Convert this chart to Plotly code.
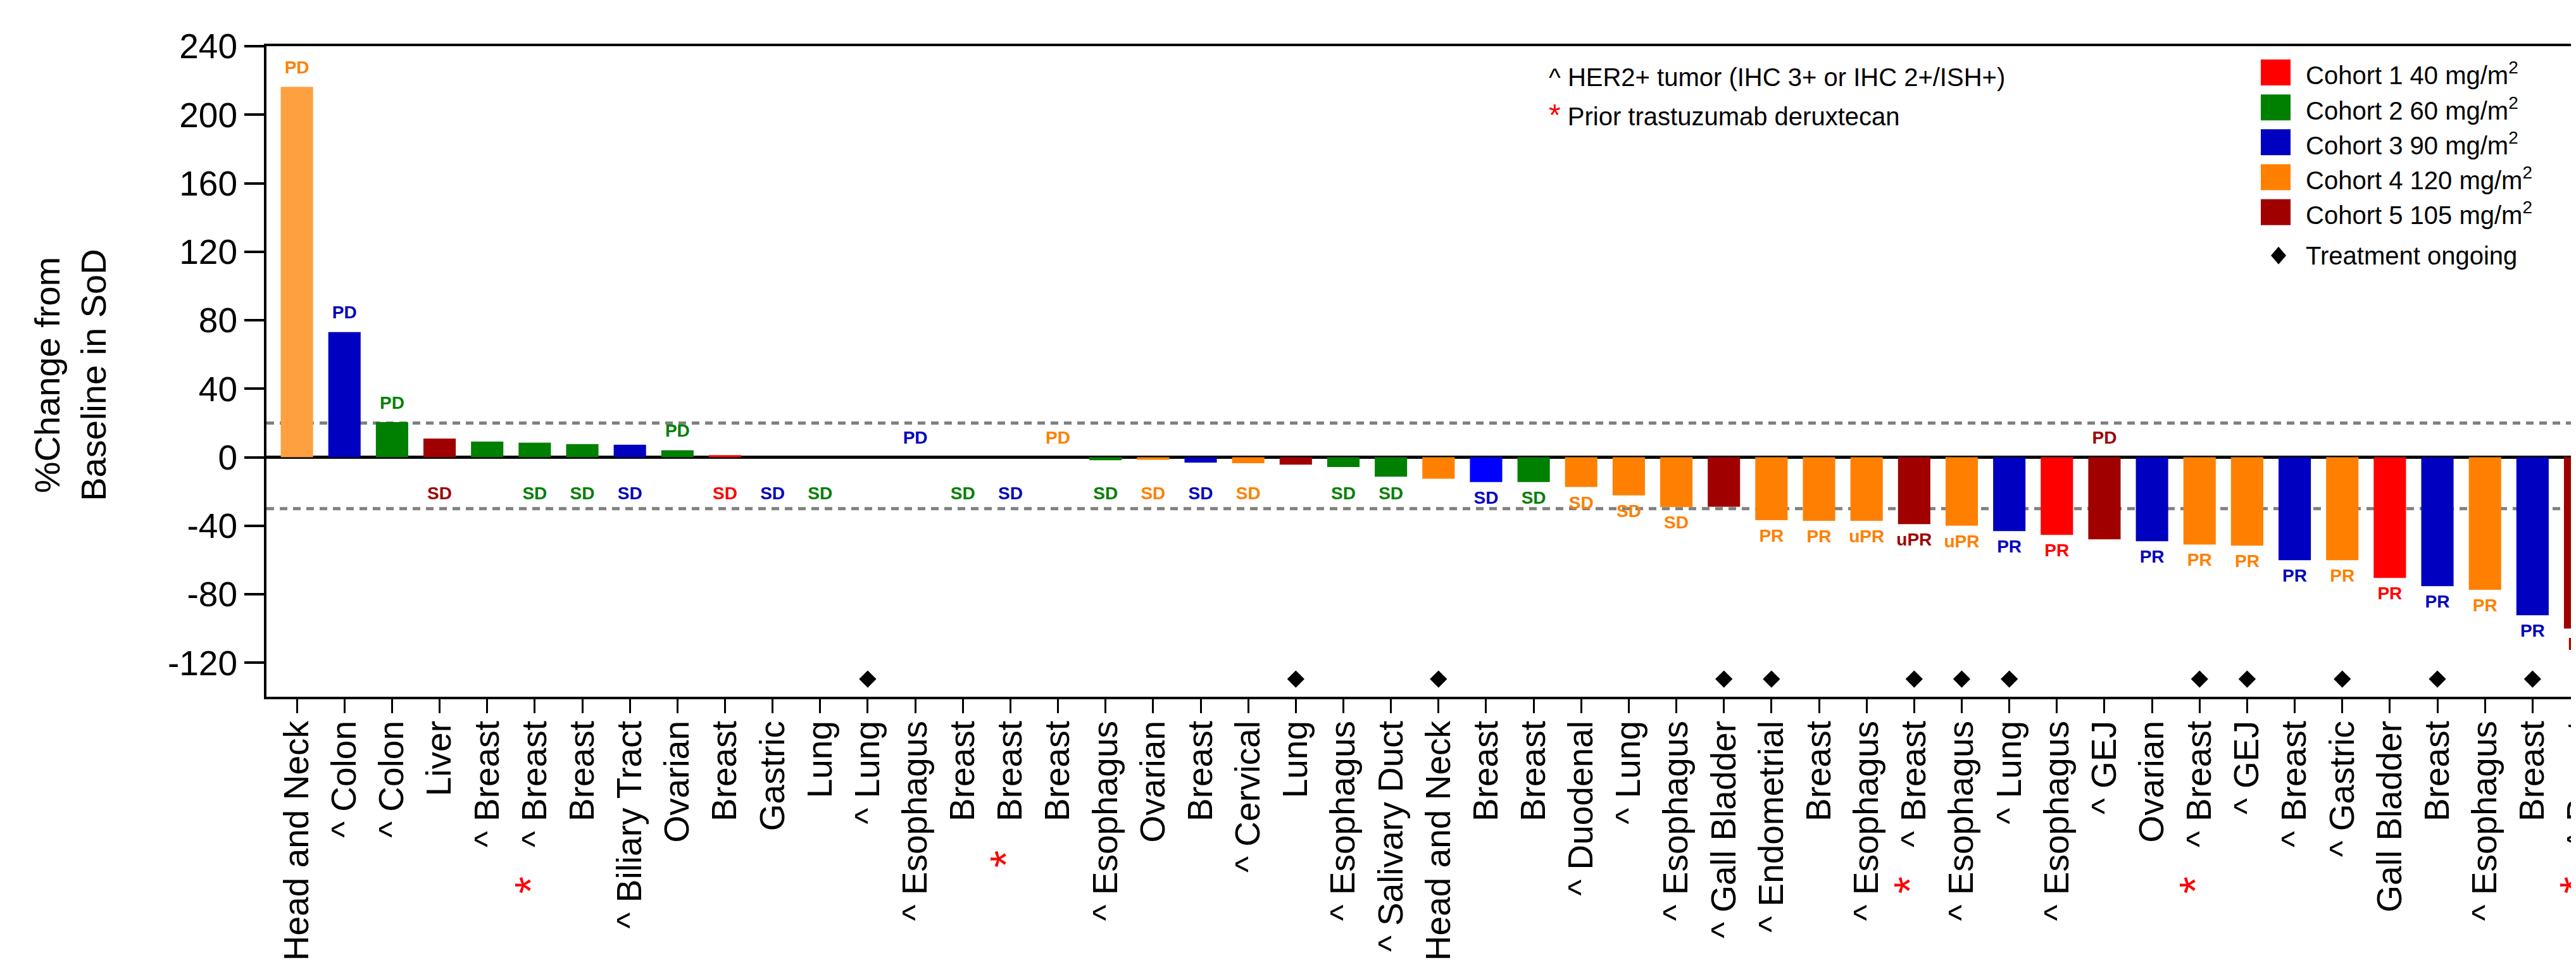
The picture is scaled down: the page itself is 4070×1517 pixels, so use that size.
import plotly.graph_objects as go

# ---------------- data ----------------
tumors = ["Head and Neck", "^ Colon", "^ Colon", "Liver", "^ Breast", "^ Breast", "Breast",
          "^ Biliary Tract", "Ovarian", "Breast", "Gastric", "Lung", "^ Lung", "^ Esophagus",
          "Breast", "Breast", "Breast", "^ Esophagus", "Ovarian", "Breast", "^ Cervical", "Lung",
          "^ Esophagus", "^ Salivary Duct", "Head and Neck", "Breast", "Breast", "^ Duodenal",
          "^ Lung", "^ Esophagus", "^ Gall Bladder", "^ Endometrial", "Breast", "^ Esophagus",
          "^ Breast", "^ Esophagus", "^ Lung", "^ Esophagus", "^ GEJ", "Ovarian", "^ Breast",
          "^ GEJ", "^ Breast", "^ Gastric", "Gall Bladder", "Breast", "^ Esophagus", "Breast",
          "^ Breast"]

pct_change = [216.3, 73.1, 20.5, 10.9, 9.2, 8.5, 7.7, 7.3, 4.1, 1.2,
              0, 0, 0, 0, 0, 0, 0, -1.7, -1.4, -3.1,
              -3.5, -4.3, -5.7, -11.3, -12.5, -14.5, -14.5, -17.3, -22.2, -29.1,
              -28.9, -36.7, -37.1, -37.1, -39.0, -40.0, -43.1, -45.3, -47.9, -49.0,
              -50.9, -51.6, -60.1, -60.1, -70.4, -75.2, -77.4, -92.2, -100.0]

cohort = [4, 3, 2, 5, 2, 2, 2, 3, 2, 1,
          3, 2, 0, 3, 2, 3, 4, 2, 4, 3,
          4, 5, 2, 2, 4, 3, 2, 4, 4, 4,
          5, 4, 4, 4, 5, 4, 3, 1, 5, 3,
          4, 4, 3, 4, 1, 3, 4, 3, 5]

response = ["PD", "PD", "PD", "SD", "", "SD", "SD", "SD", "PD", "SD",
            "SD", "SD", "", "PD", "SD", "SD", "PD", "SD", "SD", "SD",
            "SD", "", "SD", "SD", "", "SD", "SD", "SD", "SD", "SD",
            "", "PR", "PR", "uPR", "uPR", "uPR", "PR", "PR", "PD", "PR",
            "PR", "PR", "PR", "PR", "PR", "PR", "PR", "PR", "PR"]

ongoing_idx = [12, 21, 24, 30, 31, 34, 35, 36, 40, 41, 43, 45, 47, 48]
prior_tdxd_idx = [5, 15, 34, 40, 48]

cohort_names = ["Cohort 1 40 mg/m<sup>2</sup>", "Cohort 2 60 mg/m<sup>2</sup>",
                "Cohort 3 90 mg/m<sup>2</sup>", "Cohort 4 120 mg/m<sup>2</sup>",
                "Cohort 5 105 mg/m<sup>2</sup>"]

ytick_vals = [-120, -80, -40, 0, 40, 80, 120, 160, 200, 240]
ytick_text = ["-120", "-80", "-40", "0", "40", "80", "120", "160", "200", "240"]

# ---------------- style ----------------
cohort_colors = {0: "#FF8000", 1: "#FF0000", 2: "#008000", 3: "#0000C0", 4: "#FF8000", 5: "#A00000"}
bar_color_override = {0: "#FFA040", 25: "#0000FF"}
FONT = "Liberation Sans, Arial, sans-serif"
W, H = 4070, 1517
L, R, T, B = 413, 0, 65, 423.5
pw, ph = W - L - R, H - T - B

def px2x(px):
    return (px - L) / pw

def py2y(py):
    return (H - B - py) / ph

n = len(tumors)
xs = list(range(n))
bar_colors = [bar_color_override.get(i, cohort_colors[c]) for i, c in enumerate(cohort)]

fig = go.Figure()
fig.add_trace(go.Bar(x=xs, y=pct_change, marker=dict(color=bar_colors, line=dict(width=0)),
                     showlegend=False, hoverinfo="skip"))

# response labels
lab_x, lab_y, lab_t, lab_c = [], [], [], []
for i, (v, r) in enumerate(zip(pct_change, response)):
    if not r:
        continue
    if r == "PD":
        y = max(v, 0) + 10.5
    else:
        y = min(-21.8, v - 10)
    lab_x.append(i)
    lab_y.append(y)
    lab_t.append("<b>%s</b>" % r)
    lab_c.append(cohort_colors[cohort[i]])
fig.add_trace(go.Scatter(x=lab_x, y=lab_y, text=lab_t, mode="text", textposition="middle center",
                         textfont=dict(family=FONT, size=28, color=lab_c),
                         showlegend=False, hoverinfo="skip", cliponaxis=False))

# treatment ongoing diamonds
fig.add_trace(go.Scatter(x=ongoing_idx, y=[-129.5] * len(ongoing_idx), mode="markers",
                         marker=dict(symbol="diamond", size=21, color="black"),
                         showlegend=False, hoverinfo="skip", cliponaxis=False))

# tick labels
nb = "\u00a0"
ticktext = []
for i, t in enumerate(tumors):
    if i in prior_tdxd_idx:
        ticktext.append("<span style='color:#FF0000;font-size:70px'>*</span>" + nb * 3 + t)
    else:
        ticktext.append(t)

shapes = []
for yv in (20, -30):
    shapes.append(dict(type="line", xref="paper", yref="y", x0=0, x1=1, y0=yv, y1=yv,
                       line=dict(color="#808080", width=5, dash="12px,9px"), layer="below"))

annotations = []
# y title
annotations.append(dict(text="%Change from<br>Baseline in SoD", xref="paper", yref="paper",
                        x=px2x(103), y=py2y(585), textangle=-90, showarrow=False,
                        xanchor="center", yanchor="middle",
                        font=dict(family=FONT, size=56, color="black")))
# notes
annotations.append(dict(text="^ HER2+ tumor (IHC 3+ or IHC 2+/ISH+)", xref="paper", yref="paper",
                        x=px2x(2437), y=py2y(114), showarrow=False, xanchor="left", yanchor="middle",
                        font=dict(family=FONT, size=40, color="black")))
annotations.append(dict(text="<span style='color:#FF0000;font-size:48px'>*</span> Prior trastuzumab deruxtecan",
                        xref="paper", yref="paper",
                        x=px2x(2437), y=py2y(174), showarrow=False, xanchor="left", yanchor="middle",
                        font=dict(family=FONT, size=40, color="black")))
# legend
for k, name in enumerate(cohort_names):
    cy = 106.5 + 55.2 * k
    shapes.append(dict(type="rect", xref="paper", yref="paper",
                       x0=px2x(3564), x1=px2x(3611), y0=py2y(cy + 20.5), y1=py2y(cy - 20.5),
                       fillcolor=cohort_colors[k + 1], line=dict(width=0)))
    annotations.append(dict(text=name, xref="paper", yref="paper", x=px2x(3633), y=py2y(cy + 2),
                            showarrow=False, xanchor="left", yanchor="middle",
                            font=dict(family=FONT, size=40, color="black")))
dcx, dcy = 3592, 396
shapes.append(dict(type="path", xref="paper", yref="paper",
                   path="M %f,%f L %f,%f L %f,%f L %f,%f Z" % (
                       px2x(dcx), py2y(dcy - 14), px2x(dcx + 12), py2y(dcy),
                       px2x(dcx), py2y(dcy + 14), px2x(dcx - 12), py2y(dcy)),
                   fillcolor="black", line=dict(width=0)))
annotations.append(dict(text="Treatment ongoing", xref="paper", yref="paper", x=px2x(3633), y=py2y(dcy),
                        showarrow=False, xanchor="left", yanchor="middle",
                        font=dict(family=FONT, size=40, color="black")))

fig.update_layout(
    width=W, height=H,
    margin=dict(l=L, r=R, t=T, b=B, autoexpand=False),
    paper_bgcolor="white", plot_bgcolor="white",
    bargap=0.32,
    shapes=shapes, annotations=annotations,
    xaxis=dict(range=[-0.64, 48.02], tickmode="array", tickvals=xs, ticktext=ticktext,
               tickangle=-90, ticks="outside", ticklen=22, tickwidth=3, tickcolor="black",
               ticklabeloverflow="allow", ticklabelstandoff=-10,
               showline=True, linecolor="black", linewidth=4, mirror=True,
               showgrid=False, zeroline=False,
               tickfont=dict(family=FONT, size=55, color="black")),
    yaxis=dict(range=[-139.8, 240], tickmode="array", tickvals=ytick_vals, ticktext=ytick_text,
               ticks="outside", ticklen=31, tickwidth=4, tickcolor="black",
               showline=True, linecolor="black", linewidth=4, mirror=False,
               showgrid=False, zeroline=True, zerolinecolor="black", zerolinewidth=5,
               tickfont=dict(family=FONT, size=55, color="black")),
)

fig.write_html("out.html")
